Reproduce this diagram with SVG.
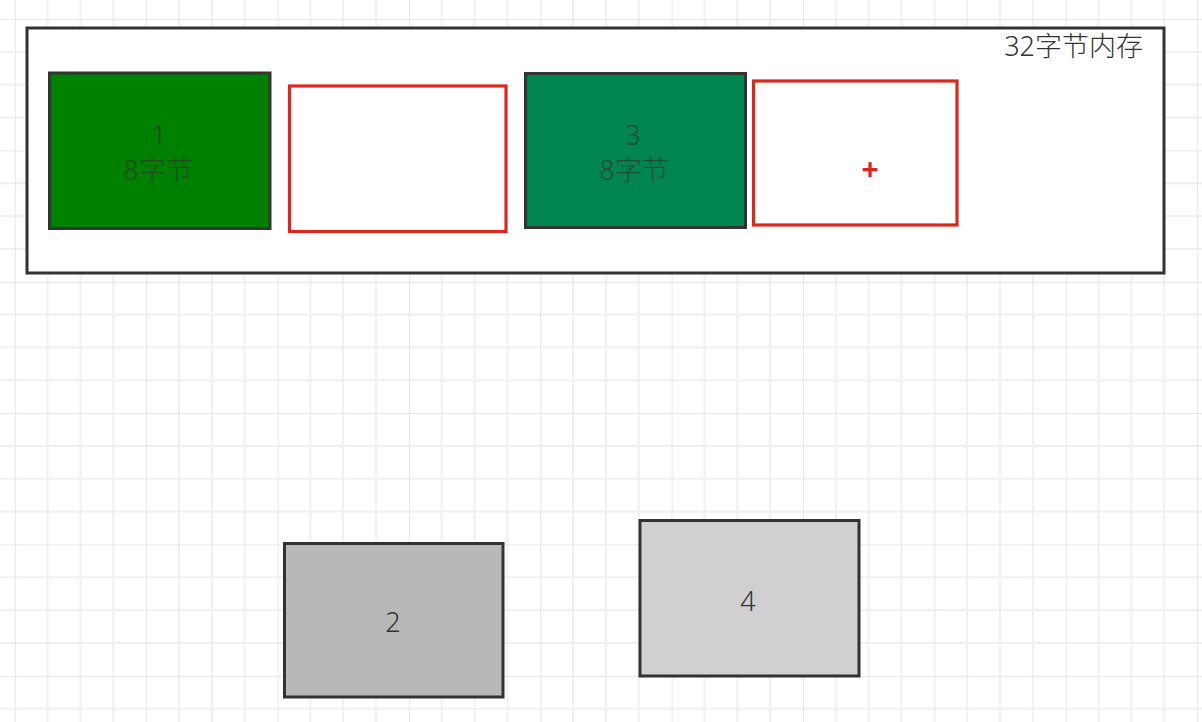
<svg xmlns="http://www.w3.org/2000/svg" width="1202" height="722" viewBox="0 0 1202 722">
  <defs>
    <pattern id="grid" patternUnits="userSpaceOnUse" x="14.8" y="19" width="131.36" height="131.36">
      <path d="M0 0V131.36M32.84 0V131.36M65.68 0V131.36M98.52 0V131.36M0 0H131.36M0 32.84H131.36M0 65.68H131.36M0 98.52H131.36" stroke="#f0f0f0" stroke-width="2" fill="none"/>
      <path d="M0 0V131.36M0 0H131.36" stroke="#e7e7e7" stroke-width="2.2" fill="none"/>
    </pattern>
  </defs>
  <style>
    .lbl { font-family: "Noto Sans", "Noto Sans CJK SC", sans-serif; font-size: 27px; font-weight: 300; text-anchor: middle; dominant-baseline: central; }
    .blk { stroke: #333333; stroke-width: 3; }
    .red { fill: #ffffff; stroke: #d9291d; stroke-width: 3.2; }
  </style>
  <rect width="1202" height="722" fill="#ffffff"/>
  <rect width="1202" height="722" fill="url(#grid)"/>

  <g id="memory">
    <rect x="27" y="28" width="1137" height="245" fill="#ffffff" stroke="#333333" stroke-width="3"/>
    <text class="lbl" x="1143" y="45" style="text-anchor:end" fill="#333333">32字节内存</text>
  </g>

  <g id="block1">
    <rect class="blk" x="49.5" y="73" width="220.5" height="155.5" fill="#008000"/>
    <text class="lbl" x="159" y="134" fill="#1f4a1f">1</text>
    <text class="lbl" x="158" y="169" fill="#1f4a1f">8字节</text>
  </g>

  <g id="free1">
    <rect class="red" x="289.5" y="86" width="216.5" height="145.5"/>
  </g>

  <g id="block3">
    <rect class="blk" x="525.5" y="73.5" width="220" height="154" fill="#008450"/>
    <text class="lbl" x="633" y="134" fill="#1d4a34">3</text>
    <text class="lbl" x="634" y="169" fill="#1d4a34">8字节</text>
  </g>

  <g id="free2">
    <rect class="red" x="753.5" y="81" width="203.5" height="144"/>
    <text class="lbl" x="870" y="168" fill="#d9291d" style="font-weight:bold;font-size:30px">+</text>
  </g>

  <g id="block2">
    <rect class="blk" x="284.5" y="543.5" width="218.5" height="153.5" fill="#b8b8b8"/>
    <text class="lbl" x="393" y="621" fill="#333333">2</text>
  </g>

  <g id="block4">
    <rect class="blk" x="640" y="520.5" width="219" height="155.5" fill="#d0d0d0"/>
    <text class="lbl" x="748" y="600" fill="#333333">4</text>
  </g>

  <g id="connectors"></g>
</svg>
